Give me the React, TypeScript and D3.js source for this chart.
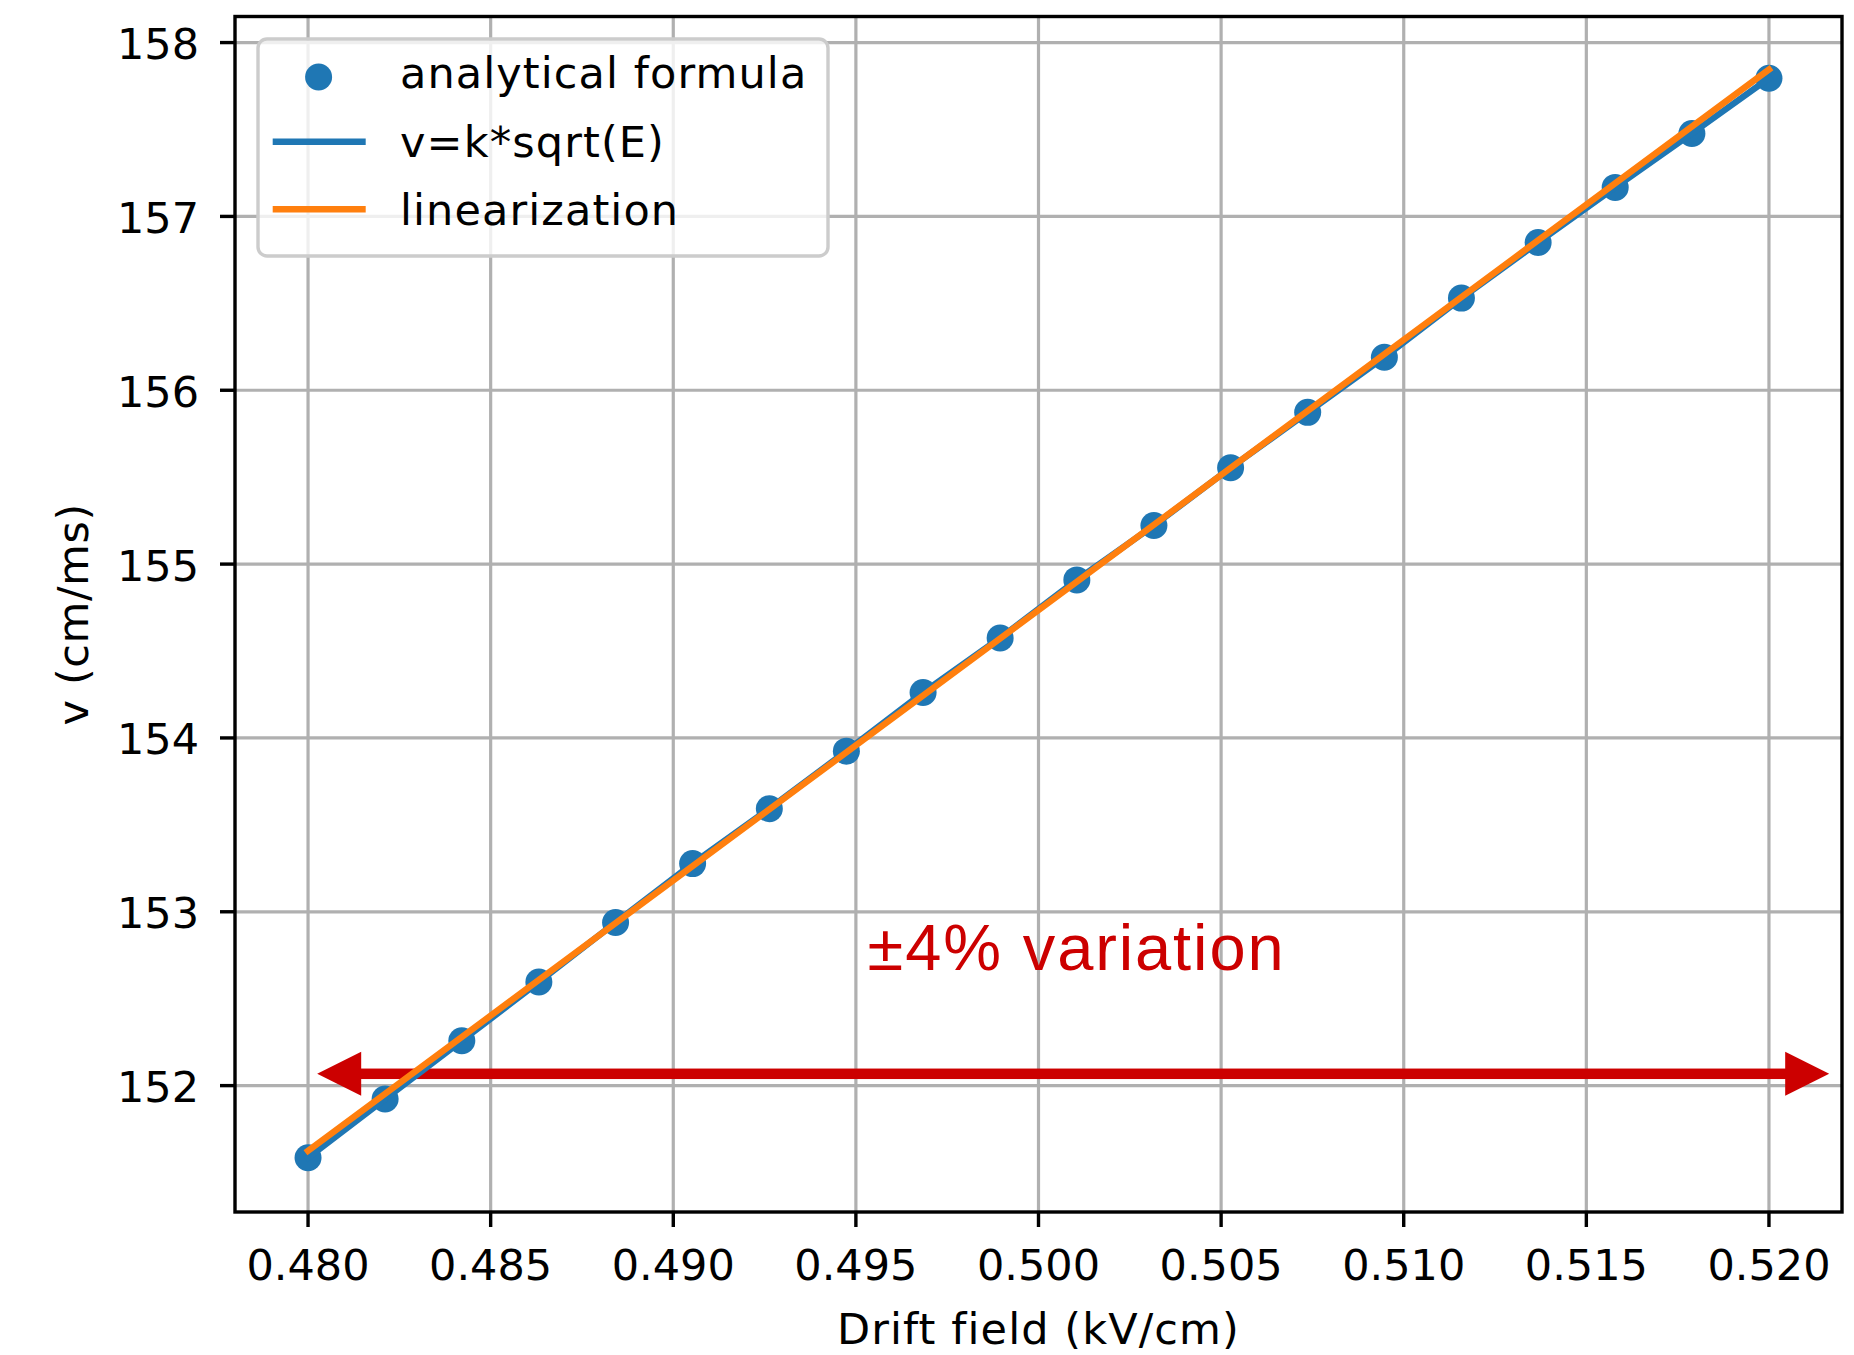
import React from "react";
import * as d3 from "d3";

// ---------- data ----------
const E_VALUES = [
  0.48, 0.48211, 0.48421, 0.48632, 0.48842, 0.49053, 0.49263, 0.49474, 0.49684, 0.49895,
  0.50105, 0.50316, 0.50526, 0.50737, 0.50947, 0.51158, 0.51368, 0.51579, 0.51789, 0.52,
];
const V_ANALYTICAL = [
  151.585, 151.923, 152.258, 152.596, 152.938, 153.277, 153.593, 153.924, 154.261, 154.575,
  154.909, 155.222, 155.554, 155.873, 156.19, 156.53, 156.85, 157.167, 157.477, 157.795,
];
const V_SQRT = V_ANALYTICAL;
const E_LIN = [0.48, 0.52];
const V_LIN = [151.625, 157.845];

const X_TICKS = [0.48, 0.485, 0.49, 0.495, 0.5, 0.505, 0.51, 0.515, 0.52];
const Y_TICKS = [152, 153, 154, 155, 156, 157, 158];
const X_DOMAIN = [0.478, 0.522];
const Y_DOMAIN = [151.273, 158.15];

const LEGEND_LABELS = ["analytical formula", "v=k*sqrt(E)", "linearization"];
const X_LABEL = "Drift field (kV/cm)";
const Y_LABEL = "v (cm/ms)";
const ANNOT_TEXT = "±4% variation";
const ARROW_E = [0.48025, 0.52165];
const ARROW_V = 152.068;
const ANNOT_E = 0.49532;
const ANNOT_V = 152.667;

// ---------- style ----------
const W = 1854;
const H = 1355;
const PLOT = { left: 235, right: 1842, top: 16.5, bottom: 1212 };
const BLUE = "#1f77b4";
const ORANGE = "#ff7f0e";
const RED = "#cc0000";
const FONT = "'DejaVu Sans', sans-serif";
const FS = 43;

export default function App() {
  const x = d3.scaleLinear().domain(X_DOMAIN).range([PLOT.left, PLOT.right]);
  const y = d3.scaleLinear().domain(Y_DOMAIN).range([PLOT.bottom, PLOT.top]);

  const sqrtPts: [number, number][] = E_VALUES.map((e, i) => [e, V_SQRT[i]]);
  const linPts: [number, number][] = E_LIN.map((e, i) => [e, V_LIN[i]]);
  const line = d3
    .line<[number, number]>()
    .x((d) => x(d[0]))
    .y((d) => y(d[1]));

  const ay = y(ARROW_V);
  const ax0 = x(ARROW_E[0]);
  const ax1 = x(ARROW_E[1]);
  const headL = 44;
  const headW = 22;
  const shaft = 10.5;

  const legX = 258;
  const legY = 39;

  return (
    <svg
      width={W}
      height={H}
      style={{ position: "absolute", left: 0, top: 0, display: "block", background: "#fff" }}
      fontFamily={FONT}
    >
      <rect x={0} y={0} width={W} height={H} fill="#fff" />
      {/* grid */}
      <g stroke="#b0b0b0" strokeWidth={3.2}>
        {X_TICKS.map((t) => (
          <line key={"gx" + t} x1={x(t)} x2={x(t)} y1={PLOT.top} y2={PLOT.bottom} />
        ))}
        {Y_TICKS.map((t) => (
          <line key={"gy" + t} x1={PLOT.left} x2={PLOT.right} y1={y(t)} y2={y(t)} />
        ))}
      </g>

      {/* red arrow annotation */}
      <g fill={RED}>
        <rect x={ax0 + headL - 1} y={ay - shaft / 2} width={ax1 - ax0 - 2 * headL + 2} height={shaft} />
        <polygon
          points={`${ax0},${ay} ${ax0 + headL},${ay - headW} ${ax0 + headL},${ay + headW}`}
        />
        <polygon
          points={`${ax1},${ay} ${ax1 - headL},${ay - headW} ${ax1 - headL},${ay + headW}`}
        />
      </g>
      <text
        x={x(ANNOT_E)}
        y={y(ANNOT_V)}
        fill={RED}
        fontFamily="'Liberation Sans', Arial, Helvetica, sans-serif"
        fontSize={65}
        textLength={416}
        lengthAdjust="spacing"
      >
        {ANNOT_TEXT}
      </text>

      {/* points */}
      <g fill={BLUE}>
        {E_VALUES.map((e, i) => (
          <circle key={"p" + i} cx={x(e)} cy={y(V_ANALYTICAL[i])} r={13.5} />
        ))}
      </g>
      {/* lines */}
      <path d={line(sqrtPts) || ""} fill="none" stroke={BLUE} strokeWidth={6.4} strokeLinecap="square" />
      <path d={line(linPts) || ""} fill="none" stroke={ORANGE} strokeWidth={6.4} strokeLinecap="square" />

      {/* spines */}
      <rect
        x={PLOT.left}
        y={PLOT.top}
        width={PLOT.right - PLOT.left}
        height={PLOT.bottom - PLOT.top}
        fill="none"
        stroke="#000"
        strokeWidth={3.4}
      />

      {/* x ticks */}
      <g>
        {X_TICKS.map((t) => (
          <g key={"xt" + t}>
            <line x1={x(t)} x2={x(t)} y1={PLOT.bottom} y2={PLOT.bottom + 15} stroke="#000" strokeWidth={3.4} />
            <text x={x(t)} y={1280} textAnchor="middle" fontSize={FS} fill="#000">
              {d3.format(".3f")(t)}
            </text>
          </g>
        ))}
      </g>
      {/* y ticks */}
      <g>
        {Y_TICKS.map((t) => (
          <g key={"yt" + t}>
            <line x1={PLOT.left - 15} x2={PLOT.left} y1={y(t)} y2={y(t)} stroke="#000" strokeWidth={3.4} />
            <text x={199} y={y(t) + 16.5} textAnchor="end" fontSize={FS} fill="#000">
              {String(t)}
            </text>
          </g>
        ))}
      </g>

      {/* axis labels */}
      <text
        x={(PLOT.left + PLOT.right) / 2}
        y={1344}
        textAnchor="middle"
        fontSize={FS}
        letterSpacing={1.1}
        fill="#000"
      >
        {X_LABEL}
      </text>
      <text
        transform={`translate(88, ${(PLOT.top + PLOT.bottom) / 2}) rotate(-90)`}
        textAnchor="middle"
        fontSize={FS}
        letterSpacing={0.6}
        fill="#000"
      >
        {Y_LABEL}
      </text>

      {/* legend */}
      <g>
        <rect
          x={legX}
          y={legY}
          width={570}
          height={217}
          rx={9}
          ry={9}
          fill="#fff"
          fillOpacity={0.8}
          stroke="#cccccc"
          strokeWidth={3.4}
        />
        <circle cx={318.6} cy={77} r={13.5} fill={BLUE} />
        <line x1={272.7} x2={365.7} y1={141.7} y2={141.7} stroke={BLUE} strokeWidth={6.4} />
        <line x1={272.7} x2={365.7} y1={209.3} y2={209.3} stroke={ORANGE} strokeWidth={6.4} />
        {LEGEND_LABELS.map((lab, i) => (
          <text key={lab} x={400} y={88 + i * 68.5} fontSize={FS} letterSpacing={1.1} fill="#000">
            {lab}
          </text>
        ))}
      </g>
    </svg>
  );
}
